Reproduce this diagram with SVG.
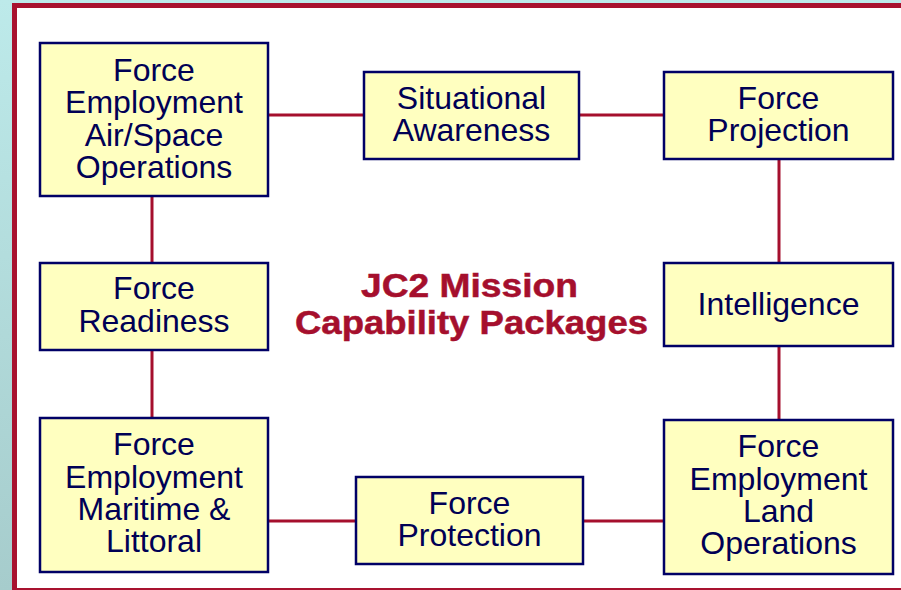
<svg xmlns="http://www.w3.org/2000/svg" width="901" height="590" viewBox="0 0 901 590">
<defs>
<linearGradient id="bg" x1="0" y1="0" x2="0" y2="1">
<stop offset="0" stop-color="#bdeaea"/>
<stop offset="1" stop-color="#a6cccc"/>
</linearGradient>
<style>
.box{fill:#ffffc0;stroke:#000066;stroke-width:2.5}
.lbl{font-family:"Liberation Sans",Arial,sans-serif;font-size:32px;fill:#000055;text-anchor:middle}
.conn line{stroke:#a50f2d;stroke-width:3}
.title{font-family:"Liberation Sans",Arial,sans-serif;font-weight:bold;font-size:33px;fill:#a50f2d;stroke:#a50f2d;stroke-width:0.5;text-anchor:middle}
</style>
</defs>
<rect x="0" y="0" width="901" height="590" fill="url(#bg)"/>
<rect x="14.5" y="5.5" width="900" height="585" fill="#ffffff" stroke="#a8122f" stroke-width="5"/>
<g id="connectors" class="conn">
<line x1="268" y1="115" x2="364" y2="115"/>
<line x1="579" y1="115" x2="664" y2="115"/>
<line x1="779" y1="159" x2="779" y2="263"/>
<line x1="779" y1="346" x2="779" y2="420"/>
<line x1="152" y1="196" x2="152" y2="262"/>
<line x1="152" y1="350" x2="152" y2="418"/>
<line x1="269" y1="521" x2="355" y2="521"/>
<line x1="583" y1="521" x2="664" y2="521"/>
</g>
<g id="air-space">
<rect class="box" x="40" y="43" width="228" height="153"/>
<text class="lbl" x="154" y="80.5">Force</text>
<text class="lbl" x="154" y="113">Employment</text>
<text class="lbl" x="154" y="145.5">Air/Space</text>
<text class="lbl" x="154" y="178">Operations</text>
</g>
<g id="situational-awareness">
<rect class="box" x="364" y="72" width="215" height="87"/>
<text class="lbl" x="471.5" y="108.5">Situational</text>
<text class="lbl" x="471.5" y="141">Awareness</text>
</g>
<g id="force-projection">
<rect class="box" x="664" y="72" width="229" height="87"/>
<text class="lbl" x="778.5" y="109">Force</text>
<text class="lbl" x="778.5" y="141">Projection</text>
</g>
<g id="force-readiness">
<rect class="box" x="40" y="263" width="228" height="87"/>
<text class="lbl" x="154" y="299">Force</text>
<text class="lbl" x="154" y="331.5">Readiness</text>
</g>
<g id="intelligence">
<rect class="box" x="664" y="263" width="229" height="83"/>
<text class="lbl" x="778.5" y="314.5">Intelligence</text>
</g>
<g id="maritime">
<rect class="box" x="40" y="418" width="228" height="154"/>
<text class="lbl" x="154" y="455">Force</text>
<text class="lbl" x="154" y="487.5">Employment</text>
<text class="lbl" x="154" y="519.5">Maritime &amp;</text>
<text class="lbl" x="154" y="552">Littoral</text>
</g>
<g id="force-protection">
<rect class="box" x="356" y="477" width="227" height="87"/>
<text class="lbl" x="469.5" y="514">Force</text>
<text class="lbl" x="469.5" y="546">Protection</text>
</g>
<g id="land">
<rect class="box" x="664" y="420" width="229" height="154"/>
<text class="lbl" x="778.5" y="457">Force</text>
<text class="lbl" x="778.5" y="489.5">Employment</text>
<text class="lbl" x="778.5" y="521.5">Land</text>
<text class="lbl" x="778.5" y="554">Operations</text>
</g>
<g id="title">
<text class="title" x="469.5" y="297" textLength="217" lengthAdjust="spacingAndGlyphs">JC2 Mission</text>
<text class="title" x="471.5" y="334" textLength="353" lengthAdjust="spacingAndGlyphs">Capability Packages</text>
</g>
</svg>
